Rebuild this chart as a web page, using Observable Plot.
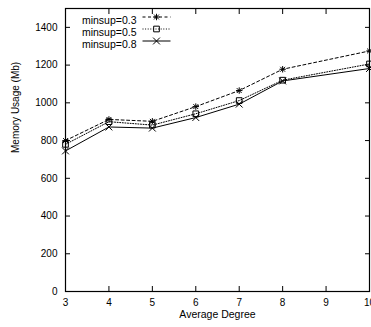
<!DOCTYPE html>
<html><head><meta charset="utf-8">
<script src="https://cdn.jsdelivr.net/npm/d3@7"></script>
<script src="https://cdn.jsdelivr.net/npm/@observablehq/plot@0.6"></script>
<style>body{margin:0;background:#fff} #chart svg{display:block}</style>
</head><body><div id="chart"></div>
<script>
const degrees = [3, 4, 5, 6, 7, 8, 10];
const minsup03 = [800, 912, 902, 980, 1065, 1178, 1275];
const minsup05 = [780, 900, 882, 942, 1012, 1120, 1206];
const minsup08 = [745, 872, 866, 922, 993, 1116, 1182];
const seriesNames = ["minsup=0.3", "minsup=0.5", "minsup=0.8"];
const xTicks = [3, 4, 5, 6, 7, 8, 9, 10];
const yTicks = [0, 200, 400, 600, 800, 1000, 1200, 1400];
const xLabel = "Average Degree";
const yLabel = "Memory Usage (Mb)";

const starSym = {draw(c, s) {
  const r = Math.sqrt(s / Math.PI) * 0.95, d = r * 0.75;
  c.moveTo(-r, 0); c.lineTo(r, 0); c.moveTo(0, -r); c.lineTo(0, r);
  c.moveTo(-d, -d); c.lineTo(d, d); c.moveTo(-d, d); c.lineTo(d, -d);
}};
const lineSym = {draw(c, s) { c.moveTo(-14, 0); c.lineTo(14, 0); }};

const series = [
  {name: seriesNames[0], values: minsup03, dash: "3,2.5", symbol: starSym, r: 3.4},
  {name: seriesNames[1], values: minsup05, dash: "1,1.6", symbol: "square", r: 3.2},
  {name: seriesNames[2], values: minsup08, dash: null, symbol: "times", r: 3.2}
];

const marks = [];
series.forEach((s, i) => {
  const rows = degrees.map((d, j) => ({degree: d, value: s.values[j]}));
  marks.push(Plot.line(rows, {x: "degree", y: "value", stroke: "black", strokeWidth: 1, strokeDasharray: s.dash}));
  marks.push(Plot.dot(rows, {x: "degree", y: "value", symbol: s.symbol, r: s.r, stroke: "black", fill: "none", strokeWidth: 1}));
  // legend
  const ly = 8.5 + i * 12;
  marks.push(Plot.text([s.name], {text: d => d, frameAnchor: "top-left", dx: 71, dy: ly, textAnchor: "end", fontSize: 10.5, fill: "black"}));
  marks.push(Plot.dot([s.name], {frameAnchor: "top-left", dx: 91, dy: ly, symbol: lineSym, r: 1, stroke: "black", fill: "none", strokeWidth: 1, strokeDasharray: s.dash}));
  marks.push(Plot.dot([s.name], {frameAnchor: "top-left", dx: 91, dy: ly, symbol: s.symbol, r: s.r, stroke: "black", fill: "none", strokeWidth: 1}));
});

const fmt = d => String(d);

const chart = Plot.plot({
  width: 371, height: 327,
  marginLeft: 65, marginRight: 2, marginTop: 8, marginBottom: 36,
  style: {fontFamily: "'Liberation Sans', Arial, Helvetica, sans-serif", fontSize: "10px", color: "black", background: "white"},
  x: {domain: [3, 10]},
  y: {domain: [0, 1500]},
  marks: [
    Plot.axisY(yTicks, {anchor: "left", tickSize: 0, tickPadding: 8, tickFormat: fmt, label: null, stroke: "none", fill: "black", fontSize: 10}),
    Plot.axisY(yTicks, {anchor: "left", tickSize: 5, dx: 5, label: null, fill: "none", stroke: "black"}),
    Plot.axisY(yTicks, {anchor: "right", tickSize: 5, dx: -5, label: null, fill: "none", stroke: "black"}),
    Plot.axisX(xTicks, {anchor: "bottom", tickSize: 0, tickPadding: 7, tickFormat: fmt, label: null, stroke: "none", fill: "black", fontSize: 10}),
    Plot.axisX(xTicks, {anchor: "bottom", tickSize: 5, dy: -5, label: null, fill: "none", stroke: "black"}),
    Plot.axisX(xTicks, {anchor: "top", tickSize: 5, dy: 5, label: null, fill: "none", stroke: "black"}),
    Plot.frame({stroke: "black", strokeWidth: 1.2}),
    Plot.text([xLabel], {text: d => d, frameAnchor: "bottom", dy: 26, fontSize: 10.5, fill: "black"}),
    Plot.text([yLabel], {text: d => d, frameAnchor: "left", dx: -50, dy: 3, rotate: -90, fontSize: 10, fill: "black"}),
    ...marks
  ]
});
document.getElementById("chart").appendChild(chart);
</script>
</body></html>
